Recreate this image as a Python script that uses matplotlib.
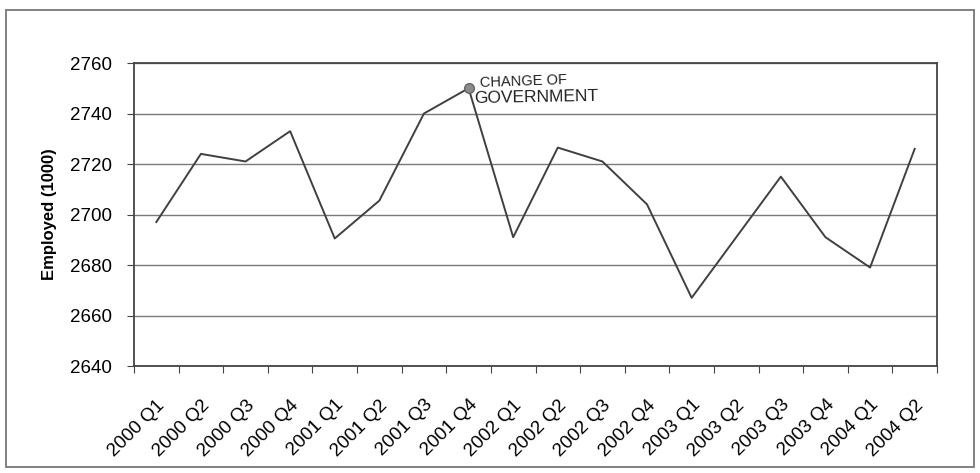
import matplotlib
matplotlib.use('Agg')
import matplotlib.pyplot as plt
from matplotlib.patches import Rectangle
from matplotlib.transforms import ScaledTranslation

### data ###
quarters = ['2000 Q1', '2000 Q2', '2000 Q3', '2000 Q4',
            '2001 Q1', '2001 Q2', '2001 Q3', '2001 Q4',
            '2002 Q1', '2002 Q2', '2002 Q3', '2002 Q4',
            '2003 Q1', '2003 Q2', '2003 Q3', '2003 Q4',
            '2004 Q1', '2004 Q2']
employed = [2697, 2724, 2721, 2733,
            2690.5, 2705.5, 2740, 2750,
            2691, 2726.5, 2721, 2704,
            2667, 2691, 2715, 2691,
            2679, 2726]
yticks = [2640, 2660, 2680, 2700, 2720, 2740, 2760]
note_idx = 7
note_lines = ['CHANGE OF', 'GOVERNMENT']

### plotting parameters ###
linecol = '#404040'
gridcol = '#7a7a7a'
axcol = '#444444'
fs = 13.5

plt.rcParams['font.family'] = ['Liberation Sans', 'DejaVu Sans']

fig = plt.figure(figsize=(9.8, 4.73), dpi=100)
fig.patches.append(Rectangle((6/980., 6/473.), 968/980., 457/473., transform=fig.transFigure,
                             fill=False, edgecolor='#777777', linewidth=1.3))
ax = fig.add_axes([134/980., 107/473., 803/980., 303/473.])

x = range(len(quarters))
ax.plot(x, employed, color=linecol, linewidth=1.4)
ax.plot(note_idx, employed[note_idx], marker='o', markersize=7, color='#8c8c8c',
        markeredgecolor='#666666', linestyle='none')

# hand-written note beside the marked quarter
ax.annotate(note_lines[0], xy=(note_idx, employed[note_idx]), xytext=(8, 5),
            textcoords='offset points', fontsize=10.5, color='#222222',
            ha='left', va='center', rotation=2)
ax.annotate(note_lines[1], xy=(note_idx, employed[note_idx]), xytext=(4, -6.5),
            textcoords='offset points', fontsize=12.5, color='#222222',
            ha='left', va='center', rotation=1)

ax.set_xlim(-0.5, len(quarters) - 0.5)
ax.set_ylim(2640, 2760)
ax.set_yticks(yticks)
ax.yaxis.grid(True, color=gridcol, linewidth=1.0)
ax.set_axisbelow(True)

# category ticks sit on boundaries, labels centred on categories
ax.set_xticks([i - 0.5 for i in range(len(quarters) + 1)])
ax.set_xticklabels([])
ax.set_xticks(list(x), minor=True)
ax.set_xticklabels(quarters, minor=True, rotation=45, ha='right', rotation_mode='anchor',
                   fontsize=fs)
shift = ScaledTranslation(-19/100., 0, fig.dpi_scale_trans)
for lab in ax.get_xticklabels(minor=True):
    lab.set_transform(lab.get_transform() + shift)
ax.tick_params(axis='x', which='major', length=5, direction='out', color=axcol)
ax.tick_params(axis='x', which='minor', length=0, pad=22)
ax.tick_params(axis='y', length=5, direction='out', color=axcol, labelsize=fs, pad=11)

for sp in ax.spines.values():
    sp.set_color(axcol)
    sp.set_linewidth(1.3)

ax.set_ylabel('Employed (1000)', fontsize=12, fontweight='bold', labelpad=9)

fig.savefig('out.png', dpi=100)
plt.close()
